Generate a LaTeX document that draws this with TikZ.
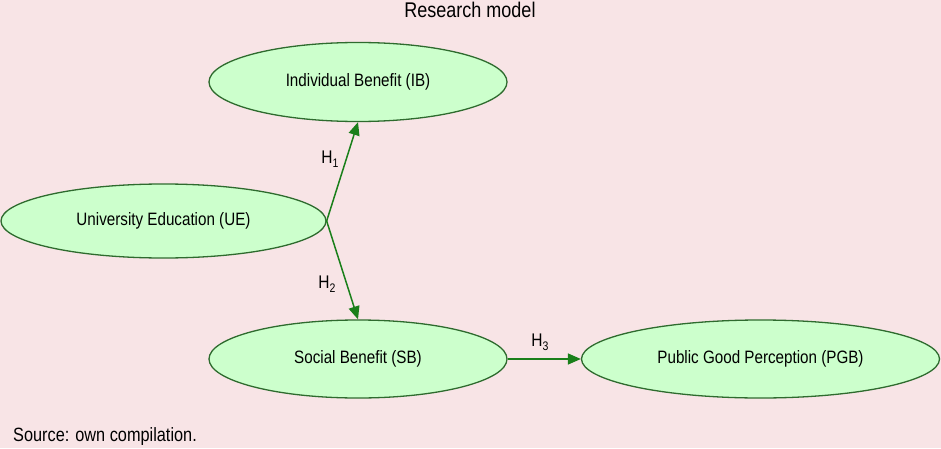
\documentclass[tikz,border=0pt]{standalone}
\usepackage{fontspec}
\setmainfont{Liberation Sans}
\usetikzlibrary{shapes.geometric,arrows.meta}
\definecolor{bgpink}{HTML}{F8E4E6}
\definecolor{nodefill}{HTML}{CCFFCC}
\definecolor{nodeline}{HTML}{2E6B2E}
\definecolor{arrowgreen}{HTML}{1A7F1A}
\newcommand{\tall}[1]{\scalebox{1}[1.18]{#1}}
\tikzset{
  construct/.style={ellipse, draw=nodeline, fill=nodefill, line width=1.3pt, inner sep=0pt, font=\fontsize{15.2}{17}\selectfont},
  path/.style={draw=arrowgreen, line width=1.5pt, -{Triangle[length=13pt,width=11pt]}},
  hlabel/.style={font=\fontsize{15.5}{17}\selectfont, inner sep=0pt}
}
\newcommand{\hyp}[1]{\tall{H\raisebox{-0.4ex}{\fontsize{10.5}{12}\selectfont #1}}}
\begin{document}
\begin{tikzpicture}[x=1pt,y=1pt]
\path[fill=bgpink] (0,0) rectangle (941,448);
\useasboundingbox (0,0) rectangle (941,448);
\node[font=\fontsize{18}{20}\selectfont] (title) at (470,438) {\tall{Research model}};
\node[construct, minimum width=298pt, minimum height=79pt] (IB) at (358,366) {\tall{Individual Benefit (IB)}};
\node[construct, minimum width=325pt, minimum height=74pt] (UE) at (163.5,227) {\tall{University Education (UE)}};
\node[construct, minimum width=298pt, minimum height=78pt] (SB) at (358,89) {\tall{Social Benefit (SB)}};
\node[construct, minimum width=358pt, minimum height=78pt] (PGB) at (760.5,89) {\tall{Public Good Perception (PGB)}};
\draw[path] (UE.east) -- (IB.south);
\draw[path] (UE.east) -- (SB.north);
\draw[path] (SB.east) -- (PGB.west);
\node[hlabel] (h1) at (330,289) {\hyp{1}};
\node[hlabel] (h2) at (327,164) {\hyp{2}};
\node[hlabel] (h3) at (540,106) {\hyp{3}};
\node[font=\fontsize{16.3}{18}\selectfont, anchor=west, inner sep=0pt] (src) at (13,11) {\tall{Source: own compilation.}};
\end{tikzpicture}
\end{document}
